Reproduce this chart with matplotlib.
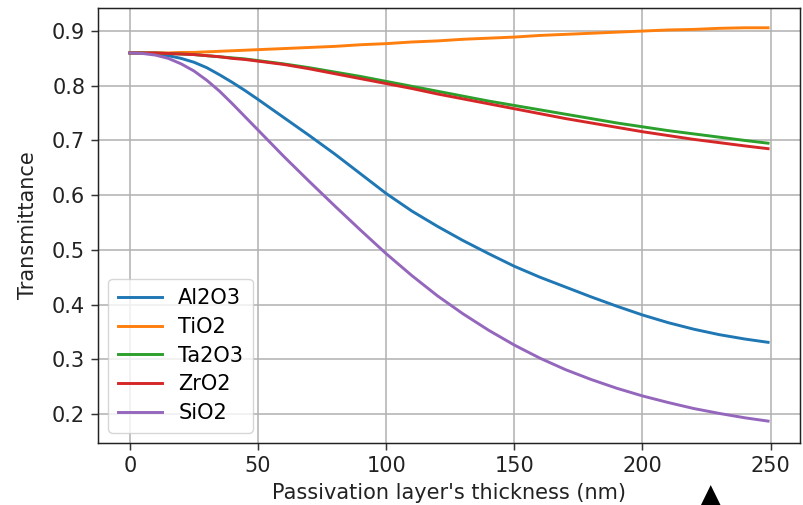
import matplotlib
matplotlib.use("Agg")
import matplotlib.pyplot as plt

thickness = [0, 5, 10, 15, 20, 25, 30, 35, 40, 45, 50, 60, 70, 80, 90, 100,
             110, 120, 130, 140, 150, 160, 170, 180, 190, 200, 210, 220, 230,
             240, 249]

al2o3 = [0.860, 0.860, 0.858, 0.855, 0.850, 0.843, 0.833, 0.820, 0.806, 0.791,
         0.775, 0.742, 0.709, 0.675, 0.639, 0.603, 0.571, 0.543, 0.517, 0.493,
         0.470, 0.450, 0.432, 0.414, 0.397, 0.381, 0.367, 0.355, 0.345, 0.337,
         0.331]
tio2 = [0.860, 0.860, 0.860, 0.860, 0.861, 0.861, 0.862, 0.863, 0.864, 0.865,
        0.866, 0.868, 0.870, 0.872, 0.875, 0.877, 0.880, 0.882, 0.885, 0.887,
        0.889, 0.892, 0.894, 0.896, 0.898, 0.900, 0.902, 0.903, 0.905, 0.906,
        0.906]
ta2o3 = [0.860, 0.860, 0.860, 0.859, 0.858, 0.857, 0.855, 0.853, 0.851, 0.849,
         0.846, 0.840, 0.833, 0.825, 0.817, 0.808, 0.799, 0.790, 0.781, 0.772,
         0.764, 0.756, 0.748, 0.740, 0.732, 0.725, 0.718, 0.712, 0.706, 0.700,
         0.695]
zro2 = [0.860, 0.860, 0.860, 0.859, 0.858, 0.857, 0.855, 0.853, 0.850, 0.848,
        0.845, 0.839, 0.831, 0.822, 0.813, 0.804, 0.795, 0.785, 0.776, 0.767,
        0.758, 0.749, 0.740, 0.732, 0.724, 0.716, 0.709, 0.702, 0.696, 0.690,
        0.685]
sio2 = [0.860, 0.859, 0.856, 0.850, 0.840, 0.827, 0.810, 0.790, 0.767, 0.743,
        0.719, 0.671, 0.625, 0.580, 0.536, 0.493, 0.453, 0.416, 0.383, 0.353,
        0.326, 0.302, 0.281, 0.263, 0.247, 0.233, 0.221, 0.210, 0.201, 0.193,
        0.187]

labels = ["Al2O3", "TiO2", "Ta2O3", "ZrO2", "SiO2"]
series = [al2o3, tio2, ta2o3, zro2, sio2]
colors = ["#1f77b4", "#ff7f0e", "#2ca02c", "#d62728", "#9467bd"]

fs = 15
fig = plt.figure(figsize=(8.04, 5.05), dpi=100)
ax = fig.add_axes([0.1219, 0.1228, 0.995 - 0.1219, 0.984 - 0.1228])

for ys, lab, c in zip(series, labels, colors):
    ax.plot(thickness, ys, color=c, lw=2.1, label=lab,
            solid_joinstyle="round", solid_capstyle="projecting")

ax.set_xlim(-12.45, 261.45)
ax.set_ylim(0.147, 0.942)
ax.set_xticks([0, 50, 100, 150, 200, 250])
ax.set_yticks([0.2, 0.3, 0.4, 0.5, 0.6, 0.7, 0.8, 0.9])
ax.grid(True, color="#b0b0b0", lw=1.1)
ax.tick_params(labelsize=fs, length=4.7, width=1.07, pad=4.5,
               colors="#333333", labelcolor="#222222")
for s in ax.spines.values():
    s.set_linewidth(1.07)
    s.set_color("#222222")
ax.set_xlabel("Passivation layer's thickness (nm)", fontsize=fs, color="#222222", labelpad=5)
ax.set_ylabel("Transmittance", fontsize=fs, color="#222222", labelpad=10)
leg = ax.legend(loc="lower left", fontsize=fs, handlelength=2.1, framealpha=0.8,
                borderpad=0.45, labelspacing=0.42, handletextpad=0.8)
leg.get_frame().set_linewidth(1.0)

fig.text(711 / 804, 1 - 482 / 505, "\u25B2", ha="center", va="top", fontsize=22, color="black")

fig.savefig("out.png", dpi=100)
